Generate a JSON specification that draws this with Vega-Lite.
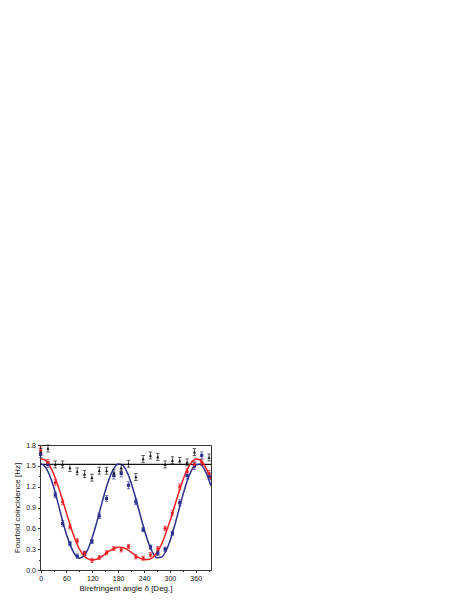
{
  "$schema": "https://vega.github.io/schema/vega-lite/v6.json",
  "autosize": {"type": "none"},
  "padding": {"left": 40, "top": 445, "right": 258, "bottom": 37},
  "width": 171,
  "height": 125,
  "background": "white",
  "config": {
    "view": {"stroke": "#333", "strokeWidth": 1},
    "font": "Liberation Sans",
    "axis": {"grid": false, "domainColor": "#333", "tickColor": "#333", "labelColor": "#111", "titleColor": "#111", "labelFont": "Liberation Sans", "titleFont": "Liberation Sans", "labelFontSize": 7, "titleFontSize": 8, "titleFontWeight": "normal", "tickSize": 2.5, "labelPadding": 2, "labelOverlap": false, "labelBound": false, "labelFlush": false}
  },
  "resolve": {"axis": {"x": "independent", "y": "independent"}},
  "datasets": {
    "curve": [
      {"s":"blue","x":0,"v":1.53},{"s":"blue","x":10,"v":1.49},{"s":"blue","x":20,"v":1.376},{"s":"blue","x":30,"v":1.2},{"s":"blue","x":40,"v":0.97},{"s":"blue","x":50,"v":0.73},{"s":"blue","x":60,"v":0.51},{"s":"blue","x":70,"v":0.34},{"s":"blue","x":80,"v":0.22},{"s":"blue","x":90,"v":0.171},{"s":"blue","x":100,"v":0.199},{"s":"blue","x":110,"v":0.303},{"s":"blue","x":120,"v":0.471},{"s":"blue","x":130,"v":0.682},{"s":"blue","x":140,"v":0.914},{"s":"blue","x":150,"v":1.138},{"s":"blue","x":160,"v":1.329},{"s":"blue","x":170,"v":1.463},{"s":"blue","x":180,"v":1.527},{"s":"blue","x":190,"v":1.51},{"s":"blue","x":200,"v":1.418},{"s":"blue","x":210,"v":1.258},{"s":"blue","x":220,"v":1.051},{"s":"blue","x":230,"v":0.82},{"s":"blue","x":240,"v":0.594},{"s":"blue","x":250,"v":0.396},{"s":"blue","x":260,"v":0.252},{"s":"blue","x":270,"v":0.178},{"s":"blue","x":280,"v":0.182},{"s":"blue","x":290,"v":0.264},{"s":"blue","x":300,"v":0.415},{"s":"blue","x":310,"v":0.615},{"s":"blue","x":320,"v":0.844},{"s":"blue","x":330,"v":1.074},{"s":"blue","x":340,"v":1.277},{"s":"blue","x":350,"v":1.43},{"s":"blue","x":360,"v":1.516},{"s":"blue","x":370,"v":1.524},{"s":"blue","x":380,"v":1.453},{"s":"blue","x":390,"v":1.312},{"s":"blue","x":395.5,"v":1.21},
      {"s":"red","x":0,"v":1.597},{"s":"red","x":10,"v":1.585},{"s":"red","x":20,"v":1.512},{"s":"red","x":30,"v":1.387},{"s":"red","x":40,"v":1.219},{"s":"red","x":50,"v":1.024},{"s":"red","x":60,"v":0.819},{"s":"red","x":70,"v":0.62},{"s":"red","x":80,"v":0.443},{"s":"red","x":90,"v":0.3},{"s":"red","x":100,"v":0.21},{"s":"red","x":110,"v":0.16},{"s":"red","x":120,"v":0.145},{"s":"red","x":130,"v":0.155},{"s":"red","x":140,"v":0.185},{"s":"red","x":150,"v":0.23},{"s":"red","x":160,"v":0.275},{"s":"red","x":170,"v":0.311},{"s":"red","x":180,"v":0.329},{"s":"red","x":190,"v":0.325},{"s":"red","x":200,"v":0.298},{"s":"red","x":210,"v":0.258},{"s":"red","x":220,"v":0.21},{"s":"red","x":230,"v":0.17},{"s":"red","x":240,"v":0.15},{"s":"red","x":250,"v":0.152},{"s":"red","x":260,"v":0.18},{"s":"red","x":270,"v":0.25},{"s":"red","x":280,"v":0.36},{"s":"red","x":290,"v":0.52},{"s":"red","x":300,"v":0.7},{"s":"red","x":310,"v":0.9},{"s":"red","x":320,"v":1.103},{"s":"red","x":330,"v":1.29},{"s":"red","x":340,"v":1.443},{"s":"red","x":350,"v":1.549},{"s":"red","x":360,"v":1.597},{"s":"red","x":370,"v":1.585},{"s":"red","x":380,"v":1.512},{"s":"red","x":390,"v":1.387},{"s":"red","x":395.5,"v":1.3}
    ],
    "pts": [
      {"s":"blue","x":0,"v":1.67,"lo":1.62,"hi":1.72},
      {"s":"blue","x":17,"v":1.52,"lo":1.48,"hi":1.56},
      {"s":"blue","x":34,"v":1.08,"lo":1.04,"hi":1.12},
      {"s":"blue","x":51,"v":0.67,"lo":0.63,"hi":0.71},
      {"s":"blue","x":68,"v":0.38,"lo":0.35,"hi":0.41},
      {"s":"blue","x":85,"v":0.2,"lo":0.17,"hi":0.23},
      {"s":"blue","x":102,"v":0.24,"lo":0.21,"hi":0.27},
      {"s":"blue","x":119,"v":0.41,"lo":0.38,"hi":0.44},
      {"s":"blue","x":136,"v":0.78,"lo":0.74,"hi":0.82},
      {"s":"blue","x":153,"v":1.03,"lo":0.99,"hi":1.07},
      {"s":"blue","x":170,"v":1.36,"lo":1.31,"hi":1.41},
      {"s":"blue","x":187,"v":1.39,"lo":1.34,"hi":1.44},
      {"s":"blue","x":204,"v":1.22,"lo":1.17,"hi":1.27},
      {"s":"blue","x":221,"v":0.98,"lo":0.94,"hi":1.02},
      {"s":"blue","x":238,"v":0.58,"lo":0.55,"hi":0.61},
      {"s":"blue","x":255,"v":0.33,"lo":0.3,"hi":0.36},
      {"s":"blue","x":272,"v":0.24,"lo":0.21,"hi":0.27},
      {"s":"blue","x":289,"v":0.3,"lo":0.27,"hi":0.33},
      {"s":"blue","x":306,"v":0.53,"lo":0.5,"hi":0.56},
      {"s":"blue","x":323,"v":0.97,"lo":0.93,"hi":1.01},
      {"s":"blue","x":340,"v":1.36,"lo":1.31,"hi":1.41},
      {"s":"blue","x":357,"v":1.5,"lo":1.45,"hi":1.55},
      {"s":"blue","x":374,"v":1.65,"lo":1.6,"hi":1.7},
      {"s":"blue","x":391,"v":1.35,"lo":1.3,"hi":1.4},
      {"s":"red","x":0,"v":1.72,"lo":1.67,"hi":1.77},
      {"s":"red","x":17,"v":1.55,"lo":1.51,"hi":1.59},
      {"s":"red","x":34,"v":1.26,"lo":1.22,"hi":1.3},
      {"s":"red","x":51,"v":0.98,"lo":0.94,"hi":1.02},
      {"s":"red","x":68,"v":0.62,"lo":0.59,"hi":0.65},
      {"s":"red","x":85,"v":0.42,"lo":0.39,"hi":0.45},
      {"s":"red","x":102,"v":0.24,"lo":0.21,"hi":0.27},
      {"s":"red","x":119,"v":0.14,"lo":0.11,"hi":0.17},
      {"s":"red","x":136,"v":0.18,"lo":0.15,"hi":0.21},
      {"s":"red","x":153,"v":0.25,"lo":0.22,"hi":0.28},
      {"s":"red","x":170,"v":0.31,"lo":0.28,"hi":0.34},
      {"s":"red","x":187,"v":0.29,"lo":0.26,"hi":0.32},
      {"s":"red","x":204,"v":0.34,"lo":0.31,"hi":0.37},
      {"s":"red","x":221,"v":0.19,"lo":0.16,"hi":0.22},
      {"s":"red","x":238,"v":0.17,"lo":0.14,"hi":0.2},
      {"s":"red","x":255,"v":0.22,"lo":0.19,"hi":0.25},
      {"s":"red","x":272,"v":0.31,"lo":0.28,"hi":0.34},
      {"s":"red","x":289,"v":0.6,"lo":0.57,"hi":0.63},
      {"s":"red","x":306,"v":0.82,"lo":0.78,"hi":0.86},
      {"s":"red","x":323,"v":1.2,"lo":1.16,"hi":1.24},
      {"s":"red","x":340,"v":1.42,"lo":1.38,"hi":1.46},
      {"s":"red","x":357,"v":1.52,"lo":1.48,"hi":1.56},
      {"s":"red","x":374,"v":1.55,"lo":1.51,"hi":1.59},
      {"s":"red","x":391,"v":1.39,"lo":1.35,"hi":1.43},
      {"s":"black","x":0,"v":1.7,"lo":1.65,"hi":1.75},
      {"s":"black","x":17,"v":1.75,"lo":1.7,"hi":1.8},
      {"s":"black","x":34,"v":1.52,"lo":1.47,"hi":1.57},
      {"s":"black","x":51,"v":1.52,"lo":1.47,"hi":1.57},
      {"s":"black","x":68,"v":1.47,"lo":1.42,"hi":1.52},
      {"s":"black","x":85,"v":1.42,"lo":1.37,"hi":1.47},
      {"s":"black","x":102,"v":1.38,"lo":1.33,"hi":1.43},
      {"s":"black","x":119,"v":1.33,"lo":1.28,"hi":1.38},
      {"s":"black","x":136,"v":1.43,"lo":1.38,"hi":1.48},
      {"s":"black","x":153,"v":1.43,"lo":1.38,"hi":1.48},
      {"s":"black","x":170,"v":1.4,"lo":1.35,"hi":1.45},
      {"s":"black","x":187,"v":1.47,"lo":1.42,"hi":1.52},
      {"s":"black","x":204,"v":1.53,"lo":1.48,"hi":1.58},
      {"s":"black","x":221,"v":1.34,"lo":1.29,"hi":1.39},
      {"s":"black","x":238,"v":1.6,"lo":1.55,"hi":1.65},
      {"s":"black","x":255,"v":1.65,"lo":1.6,"hi":1.7},
      {"s":"black","x":272,"v":1.63,"lo":1.58,"hi":1.68},
      {"s":"black","x":289,"v":1.52,"lo":1.47,"hi":1.57},
      {"s":"black","x":306,"v":1.58,"lo":1.53,"hi":1.63},
      {"s":"black","x":323,"v":1.57,"lo":1.52,"hi":1.62},
      {"s":"black","x":340,"v":1.55,"lo":1.5,"hi":1.6},
      {"s":"black","x":357,"v":1.7,"lo":1.65,"hi":1.75},
      {"s":"black","x":391,"v":1.62,"lo":1.57,"hi":1.67}
    ],
    "flat": [{"v": 1.52}]
  },
  "layer": [
    {
      "data": {"name": "pts"},
      "mark": {"type": "point", "opacity": 0, "size": 1},
      "encoding": {
        "x": {"field": "x", "type": "quantitative", "scale": {"domain": [-1.5, 395.5], "nice": false, "zero": false},
              "axis": {"orient": "bottom", "values": [30, 90, 150, 210, 270, 330, 390], "labels": false, "domain": false, "title": null, "tickSize": 1.5}},
        "y": {"field": "v", "type": "quantitative", "scale": {"domain": [0, 1.8], "nice": false},
              "axis": {"orient": "left", "values": [0.15, 0.45, 0.75, 1.05, 1.35, 1.65], "labels": false, "domain": false, "title": null, "tickSize": 1.5}}
      }
    },
    {
      "data": {"name": "flat"},
      "mark": {"type": "rule", "color": "#111", "strokeWidth": 1.3},
      "encoding": {"y": {"field": "v", "type": "quantitative", "axis": null}}
    },
    {
      "data": {"name": "curve"},
      "mark": {"type": "line", "interpolate": "monotone", "strokeWidth": 1.5, "clip": true},
      "encoding": {
        "x": {"field": "x", "type": "quantitative",
              "axis": {"orient": "bottom", "values": [0, 60, 120, 180, 240, 300, 360], "title": "Birefringent angle δ [Deg.]", "titlePadding": 3}},
        "y": {"field": "v", "type": "quantitative",
              "axis": {"orient": "left", "values": [0, 0.3, 0.6, 0.9, 1.2, 1.5, 1.8], "format": ".1f", "title": "Fourfold coincidence [Hz]", "titlePadding": 4}},
        "color": {"field": "s", "type": "nominal", "scale": {"domain": ["blue", "red", "black"], "range": ["#2b2f8e", "#ec1c24", "#111111"]}, "legend": null},
        "detail": {"field": "s"}
      }
    },
    {
      "data": {"name": "pts"},
      "mark": {"type": "rule", "strokeWidth": 0.8, "opacity": 0.8},
      "encoding": {
        "x": {"field": "x", "type": "quantitative", "axis": null},
        "y": {"field": "lo", "type": "quantitative", "axis": null},
        "y2": {"field": "hi"},
        "color": {"field": "s", "type": "nominal", "legend": null}
      }
    },
    {
      "data": {"name": "pts"},
      "mark": {"type": "tick", "orient": "horizontal", "size": 3.5, "thickness": 0.8, "opacity": 0.8},
      "encoding": {
        "x": {"field": "x", "type": "quantitative", "axis": null},
        "y": {"field": "lo", "type": "quantitative", "axis": null},
        "color": {"field": "s", "type": "nominal", "legend": null}
      }
    },
    {
      "data": {"name": "pts"},
      "mark": {"type": "tick", "orient": "horizontal", "size": 3.5, "thickness": 0.8, "opacity": 0.8},
      "encoding": {
        "x": {"field": "x", "type": "quantitative", "axis": null},
        "y": {"field": "hi", "type": "quantitative", "axis": null},
        "color": {"field": "s", "type": "nominal", "legend": null}
      }
    },
    {
      "data": {"name": "pts"},
      "mark": {"type": "point", "filled": true, "size": 10, "opacity": 1},
      "encoding": {
        "x": {"field": "x", "type": "quantitative", "axis": null},
        "y": {"field": "v", "type": "quantitative", "axis": null},
        "color": {"field": "s", "type": "nominal", "legend": null},
        "shape": {"field": "s", "type": "nominal", "scale": {"domain": ["blue", "red", "black"], "range": ["square", "circle", "triangle-up"]}, "legend": null}
      }
    }
  ]
}
